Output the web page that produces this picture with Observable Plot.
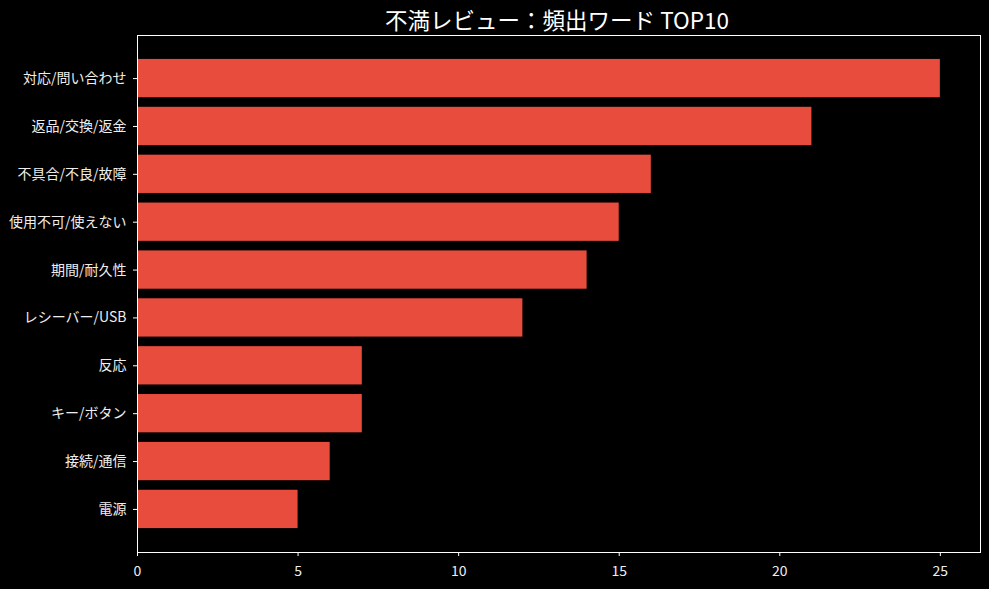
<!DOCTYPE html>
<html>
<head>
<meta charset="utf-8">
<script src="https://cdn.jsdelivr.net/npm/d3@7"></script>
<script src="https://cdn.jsdelivr.net/npm/@observablehq/plot@0.6"></script>
<style>
  html, body { margin: 0; padding: 0; background: #000; }
  body { width: 989px; height: 589px; overflow: hidden; font-family: "Noto Sans CJK JP", "Noto Sans", sans-serif; }
  #title { height: 34px; position: relative; color: #fff; font-size: 22.5px; }
  #title span { position: absolute; left: 557px; top: 19px; transform: translate(-50%, -50%); white-space: nowrap; }
</style>
</head>
<body>
<div id="title"><span>不満レビュー：頻出ワード TOP10</span></div>
<div id="chart"></div>
<script>
const words = ["対応/問い合わせ", "返品/交換/返金", "不具合/不良/故障", "使用不可/使えない", "期間/耐久性", "レシーバー/USB", "反応", "キー/ボタン", "接続/通信", "電源"];
const counts = [25, 21, 16, 15, 14, 12, 7, 7, 6, 5];
const xTicks = [0, 5, 10, 15, 20, 25];

const data = words.map((w, i) => ({word: w, count: counts[i]}));

const chart = Plot.plot({
  width: 989,
  height: 555,
  marginTop: 1,
  marginBottom: 37,
  marginLeft: 137,
  marginRight: 9,
  style: {background: "#000", color: "#eeeeee", fontSize: "14px", fontFamily: "'Noto Sans CJK JP', 'Noto Sans', sans-serif"},
  x: {domain: [0, 26.25], ticks: xTicks, label: null},
  y: {domain: words, paddingInner: 0.2, paddingOuter: 0.5, round: false, label: null},
  marks: [
    Plot.barX(data, {x: "count", y: "word", fill: "#E74C3C"}),
    Plot.axisX({ticks: xTicks, tickSize: 4, tickPadding: 10, label: null, stroke: "#fff", fontSize: 14}),
    Plot.axisY({tickSize: 4, tickPadding: 7, label: null, stroke: "#fff", fontSize: 14}),
    Plot.frame({stroke: "#fff", strokeWidth: 1})
  ]
});
document.getElementById("chart").appendChild(chart);
</script>
</body>
</html>
